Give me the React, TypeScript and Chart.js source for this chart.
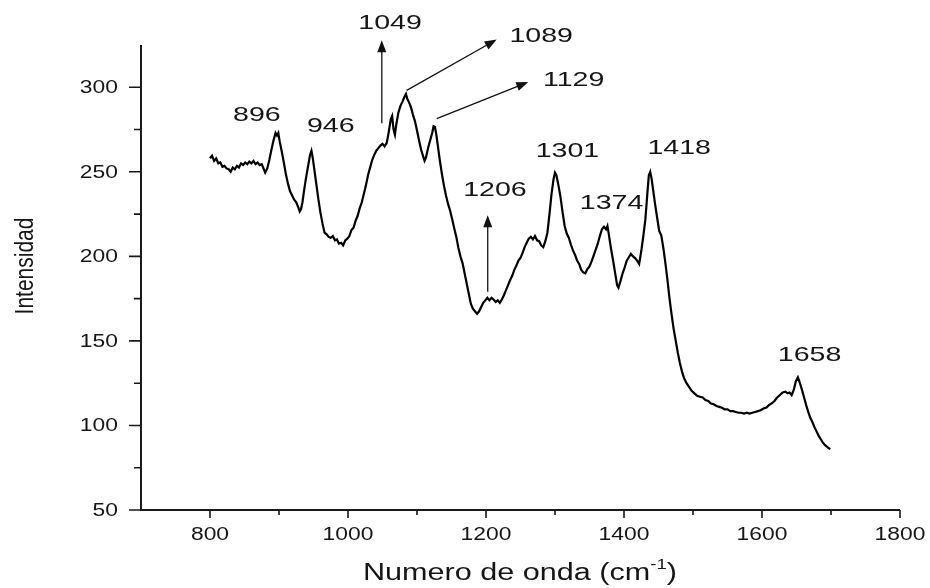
import React, { useEffect, useRef } from "react";
import { Chart, registerables } from "chart.js";

Chart.register(...registerables);

// Raman spectrum: wavenumber (cm-1) and intensity
const wavenumber = [
  800, 803, 806, 809, 812, 815, 818, 821, 824, 827, 830, 833, 836, 839, 842, 845, 848, 851, 854, 857,
  860, 863, 866, 869, 872, 875, 878, 880, 883, 886, 889, 892, 895, 897, 899, 901, 904, 907, 910, 913,
  916, 919, 922, 925, 928, 930, 932, 934, 936, 939, 942, 945, 947, 949, 951, 954, 957, 960, 963, 966,
  969, 972, 975, 978, 981, 984, 987, 990, 993, 996, 999, 1002, 1005, 1008, 1011, 1014, 1017, 1020, 1023, 1026,
  1029, 1032, 1035, 1038, 1041, 1044, 1047, 1050, 1053, 1056, 1058, 1060, 1062, 1064, 1066, 1068, 1070, 1073, 1076, 1079,
  1082, 1084, 1086, 1088, 1091, 1094, 1097, 1100, 1103, 1106, 1109, 1111, 1113, 1116, 1119, 1122, 1124, 1126, 1128, 1130,
  1133, 1136, 1139, 1142, 1145, 1148, 1151, 1154, 1157, 1160, 1163, 1166, 1169, 1172, 1175, 1178, 1181, 1184, 1187, 1190,
  1193, 1196, 1199, 1202, 1205, 1208, 1211, 1214, 1217, 1220, 1223, 1226, 1229, 1232, 1235, 1238, 1241, 1244, 1247, 1250,
  1253, 1256, 1259, 1262, 1265, 1268, 1271, 1274, 1277, 1280, 1283, 1286, 1289, 1292, 1295, 1298, 1300, 1302, 1305, 1308,
  1311, 1314, 1317, 1320, 1323, 1326, 1329, 1332, 1335, 1338, 1341, 1344, 1347, 1350, 1353, 1356, 1359, 1362, 1365, 1368,
  1371, 1374, 1376, 1378, 1381, 1384, 1387, 1390, 1392, 1395, 1398, 1401, 1404, 1407, 1410, 1413, 1416, 1419, 1422, 1425,
  1428, 1431, 1434, 1436, 1438, 1440, 1442, 1445, 1448, 1451, 1454, 1457, 1460, 1463, 1466, 1469, 1472, 1475, 1478, 1481,
  1484, 1487, 1490, 1494, 1498, 1502, 1506, 1510, 1514, 1518, 1522, 1526, 1530, 1534, 1538, 1542, 1546, 1550, 1554, 1558,
  1562, 1566, 1570, 1574, 1578, 1582, 1586, 1590, 1594, 1598, 1602, 1606, 1610, 1614, 1618, 1622, 1626, 1630, 1634, 1637,
  1640, 1643, 1646, 1649, 1652, 1655, 1658, 1661, 1664, 1667, 1670, 1673, 1676, 1679, 1682, 1685, 1688, 1691, 1694, 1697,
  1699,
];

const intensity = [
  258, 259.5, 256.5, 258, 255, 255.5, 253, 253.5, 252, 251.5, 250, 252.5, 251.5, 253.5, 252.5, 255, 254, 255.5, 254.5, 256,
  255, 256.5, 254.5, 255.5, 254, 254.5, 251.5, 249.5, 252, 257, 263, 268.5, 273, 271.5, 273, 268, 262, 255.5, 248.5, 243,
  238.5, 236, 233.5, 232, 229, 226.5, 228, 232, 238, 246, 253, 260, 262.5, 258, 252, 243, 234, 226, 219.5, 214,
  213, 211.5, 211, 212, 209.5, 210, 207.5, 208, 206.5, 209.5, 210.5, 212, 215.5, 217, 221, 224, 228.5, 232, 237, 242,
  248, 252.5, 257, 260, 262.5, 264, 265.5, 266.5, 265, 267, 271, 276, 281, 283, 275, 272, 278, 285, 289, 291.5,
  294.5, 296, 293, 291.5, 288.5, 284, 280, 274.5, 268.5, 263, 259, 256.5, 258.5, 264, 268.5, 273, 277, 276.5, 272, 266,
  257, 249, 242, 236, 231, 227, 222, 216.5, 211.5, 205, 200, 196, 190, 184, 178, 172, 169, 167.5, 166, 167.5,
  170, 172.5, 174, 175.5, 174, 175.5, 174.5, 173, 174, 172.5, 174.5, 177, 180, 183, 186, 188.5, 192, 194.5, 197.5, 199,
  202, 205.5, 208, 210.5, 211.5, 210, 212, 209.5, 209, 206.5, 205.5, 209, 214, 225, 237, 246, 249.5, 248, 242, 235,
  226, 218, 213.5, 211, 207, 203.5, 201, 197.5, 195.5, 192, 190.5, 190, 192.5, 194, 197, 200.5, 204, 207.5, 212, 216,
  217.5, 216, 218, 213, 205, 198, 190.5, 183, 181.5, 185.5, 190, 193.5, 197.5, 199.5, 201.5, 200, 199, 197.5, 195.5, 203,
  212, 222, 238, 248, 250, 246, 240, 231, 223, 215, 212.5, 205, 196, 186, 175, 165.5, 157, 150, 143, 137,
  132, 128, 125.5, 123, 120.5, 119, 117.5, 117, 116.5, 115, 114.5, 113, 112.5, 111.5, 111, 110.5, 109.5, 109.5, 108.5, 108.5,
  108, 107.5, 107.5, 107, 107.5, 107, 107.5, 108, 108.5, 109, 110, 110.5, 112, 113, 114.5, 116.5, 118, 119.5, 120, 119,
  119.5, 118, 121, 126, 128.5, 125, 121, 116.5, 112, 108, 104.5, 102, 99, 96.5, 94, 92, 90, 88.5, 87.5, 86.5,
  86,
];

// Axis ranges and ticks
const xMajorTicks = [800, 1000, 1200, 1400, 1600, 1800];
const xMinorTicks = [900, 1100, 1300, 1500, 1700];
const yMajorTicks = [50, 100, 150, 200, 250, 300];
const yMinorTicks = [75, 125, 175, 225, 275];

// Peak labels: text and anchor (wavenumber, intensity)
const peakText = ["896", "946", "1049", "1089", "1129", "1206", "1301", "1374", "1418", "1658"];
const peakLabelX = [868, 975, 1061, 1280, 1327, 1213, 1318, 1382, 1480, 1669];
const peakLabelY = [283.7, 277, 338, 330, 304, 239, 262, 231.3, 264.2, 141.6];

// Arrows: start (x0, y0) to head (x1, y1)
const arrowX0 = [1049, 1085, 1128.6, 1202.5];
const arrowY0 = [278.7, 298.2, 281.5, 179];
const arrowX1 = [1049, 1215.5, 1261.3, 1202.5];
const arrowY1 = [327.8, 328.2, 303.1, 224.3];

const TEXT = "#161616";
const FONT_FAMILY = '"Liberation Sans", Arial, sans-serif';
const STRETCH = 1.27;

function stretchedText(
  ctx: CanvasRenderingContext2D,
  text: string,
  x: number,
  y: number,
  size: number,
  align: CanvasTextAlign,
  stretch = STRETCH
) {
  ctx.save();
  ctx.translate(x, y);
  ctx.scale(stretch, 1);
  ctx.font = `${size}px ${FONT_FAMILY}`;
  ctx.fillStyle = TEXT;
  ctx.textAlign = align;
  ctx.textBaseline = "middle";
  ctx.fillText(text, 0, 0);
  ctx.restore();
}

function arrow(ctx: CanvasRenderingContext2D, x0: number, y0: number, x1: number, y1: number) {
  const ang = Math.atan2(y1 - y0, x1 - x0);
  const head = 12;
  const half = 4.5;
  ctx.save();
  ctx.strokeStyle = "#111";
  ctx.fillStyle = "#111";
  ctx.lineWidth = 1.3;
  ctx.beginPath();
  ctx.moveTo(x0, y0);
  ctx.lineTo(x1 - Math.cos(ang) * head * 0.8, y1 - Math.sin(ang) * head * 0.8);
  ctx.stroke();
  ctx.beginPath();
  ctx.moveTo(x1, y1);
  ctx.lineTo(
    x1 - Math.cos(ang) * head - Math.sin(ang) * half,
    y1 - Math.sin(ang) * head + Math.cos(ang) * half
  );
  ctx.lineTo(
    x1 - Math.cos(ang) * head + Math.sin(ang) * half,
    y1 - Math.sin(ang) * head - Math.cos(ang) * half
  );
  ctx.closePath();
  ctx.fill();
  ctx.restore();
}

const axesPlugin = {
  id: "spectrumAxes",
  afterDraw(chart: any) {
    const ctx: CanvasRenderingContext2D = chart.ctx;
    const xs = chart.scales.x;
    const ys = chart.scales.y;
    const left = xs.getPixelForValue(700);
    const right = xs.getPixelForValue(1800);
    const bottom = ys.getPixelForValue(50);
    const top = ys.getPixelForValue(325);

    ctx.save();
    ctx.strokeStyle = "#1a1a1a";
    ctx.lineWidth = 2;
    ctx.beginPath();
    ctx.moveTo(left, top);
    ctx.lineTo(left, bottom);
    ctx.lineTo(right, bottom);
    ctx.stroke();

    ctx.lineWidth = 1.6;
    ctx.beginPath();
    yMajorTicks.forEach((v) => {
      const p = ys.getPixelForValue(v);
      ctx.moveTo(left - 12, p);
      ctx.lineTo(left, p);
    });
    yMinorTicks.forEach((v) => {
      const p = ys.getPixelForValue(v);
      ctx.moveTo(left - 7, p);
      ctx.lineTo(left, p);
    });
    xMajorTicks.forEach((v) => {
      const p = xs.getPixelForValue(v);
      ctx.moveTo(p, bottom);
      ctx.lineTo(p, bottom + 8);
    });
    xMinorTicks.forEach((v) => {
      const p = xs.getPixelForValue(v);
      ctx.moveTo(p, bottom);
      ctx.lineTo(p, bottom + 5);
    });
    ctx.stroke();
    ctx.restore();

    yMajorTicks.forEach((v) => {
      stretchedText(ctx, String(v), left - 23, ys.getPixelForValue(v) + 1, 18, "right");
    });
    xMajorTicks.forEach((v) => {
      stretchedText(ctx, String(v), xs.getPixelForValue(v), bottom + 25, 18, "center");
    });

    // x-axis title with superscript
    ctx.save();
    const cx = 520;
    const cy = bottom + 64;
    ctx.translate(cx, cy);
    ctx.scale(1.33, 1);
    ctx.fillStyle = TEXT;
    ctx.textBaseline = "middle";
    ctx.textAlign = "left";
    const main = `23px ${FONT_FAMILY}`;
    const sup = `14px ${FONT_FAMILY}`;
    ctx.font = main;
    const w1 = ctx.measureText("Numero de onda (cm").width;
    const w3 = ctx.measureText(")").width;
    ctx.font = sup;
    const w2 = ctx.measureText("-1").width;
    let x = -(w1 + w2 + w3) / 2;
    ctx.font = main;
    ctx.fillText("Numero de onda (cm", x, 0);
    x += w1;
    ctx.font = sup;
    ctx.fillText("-1", x, -9);
    x += w2;
    ctx.font = main;
    ctx.fillText(")", x, 0);
    ctx.restore();

    // y-axis title
    ctx.save();
    ctx.translate(26, 266);
    ctx.scale(STRETCH, 1);
    ctx.rotate(-Math.PI / 2);
    ctx.font = `21px ${FONT_FAMILY}`;
    ctx.fillStyle = TEXT;
    ctx.textAlign = "center";
    ctx.textBaseline = "middle";
    ctx.fillText("Intensidad", 0, 0);
    ctx.restore();

    // Peak annotations
    peakText.forEach((t, i) => {
      stretchedText(
        ctx,
        t,
        xs.getPixelForValue(peakLabelX[i]),
        ys.getPixelForValue(peakLabelY[i]),
        21,
        "center",
        1.36
      );
    });
    arrowX0.forEach((_, i) => {
      arrow(
        ctx,
        xs.getPixelForValue(arrowX0[i]),
        ys.getPixelForValue(arrowY0[i]),
        xs.getPixelForValue(arrowX1[i]),
        ys.getPixelForValue(arrowY1[i])
      );
    });
  },
};

export default function App() {
  const canvasRef = useRef<HTMLCanvasElement | null>(null);

  useEffect(() => {
    if (!canvasRef.current) return;
    const points = wavenumber.map((w, i) => ({ x: w, y: intensity[i] }));
    const chart = new Chart(canvasRef.current, {
      type: "line",
      data: {
        datasets: [
          {
            data: points,
            borderColor: "#000",
            borderWidth: 2.2,
            pointRadius: 0,
            tension: 0,
            fill: false,
          },
        ],
      },
      options: {
        animation: false,
        responsive: true,
        maintainAspectRatio: false,
        parsing: false,
        layout: { padding: { top: 45, right: 30, left: 0, bottom: 0 } },
        plugins: { legend: { display: false }, tooltip: { enabled: false } },
        scales: {
          x: {
            type: "linear",
            min: 700,
            max: 1800,
            grid: { display: false },
            border: { display: false },
            ticks: { display: false },
            afterFit: (s: any) => {
              s.height = 78;
            },
          },
          y: {
            type: "linear",
            min: 50,
            max: 325,
            grid: { display: false },
            border: { display: false },
            ticks: { display: false },
            afterFit: (s: any) => {
              s.width = 141;
            },
          },
        },
      },
      plugins: [axesPlugin],
    } as any);
    return () => chart.destroy();
  }, []);

  return (
    <div
      style={{
        position: "fixed",
        left: 0,
        top: 0,
        width: 930,
        height: 588,
        background: "#fff",
      }}
    >
      <canvas ref={canvasRef} />
    </div>
  );
}
